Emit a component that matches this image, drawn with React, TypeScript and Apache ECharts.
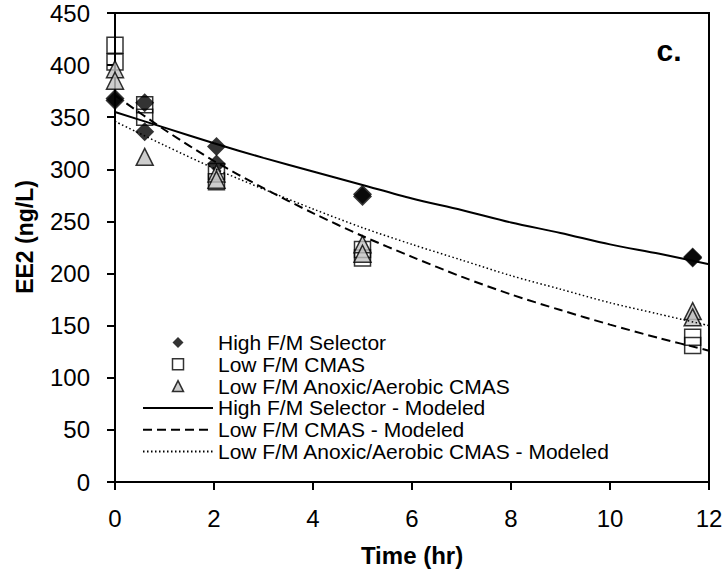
import React, { useEffect, useRef } from "react";
import * as echarts from "echarts";

// Measured data (time in hr, EE2 in ng/L)
const highFM: [number, number][] = [
  [0, 368], [0, 366], [0.6, 364], [0.6, 336], [2.05, 322], [2.05, 305],
  [5, 276], [5, 274], [11.67, 216], [11.67, 215],
];
const lowCMAS: [number, number][] = [
  [0, 419], [0, 403], [0.6, 362], [0.6, 350], [2.05, 298], [2.05, 288],
  [5, 223], [5, 215], [11.67, 139], [11.67, 131],
];
const anoxic: [number, number][] = [
  [0, 396], [0, 385], [0.6, 312], [2.05, 296], [2.05, 290],
  [5, 228], [5, 219], [11.67, 164], [11.67, 158],
];

// Modeled curves
const modelTimes = [0, 1, 2, 3, 4, 5, 6, 7, 8, 9, 10, 11, 12];
const highModel = [355, 340, 325, 311, 298, 285, 272, 261, 249, 239, 228, 219, 209];
const cmasModel = [371, 338, 308, 282, 258, 236, 216, 197, 180, 165, 151, 138, 126];
const anoxModel = [346, 323, 301, 281, 262, 244, 228, 213, 198, 185, 172, 161, 150];

const legendNames = [
  "High F/M Selector",
  "Low F/M CMAS",
  "Low F/M Anoxic/Aerobic CMAS",
  "High F/M Selector - Modeled",
  "Low F/M CMAS - Modeled",
  "Low F/M Anoxic/Aerobic CMAS - Modeled",
];

const FONT = "'Liberation Sans', Arial, sans-serif";

const pair = (ys: number[]) => modelTimes.map((t, i) => [t, ys[i]]);

// legend icons drawn in a 70x11 box so they are not stretched
const ICON_BOX = "M0 0M70 11";
const diamondIcon = `path://${ICON_BOX}M35 0L40.5 5.5L35 11L29.5 5.5Z`;
const rectIcon = `path://${ICON_BOX}M29.5 0L40.5 0L40.5 11L29.5 11Z`;
const triIcon = `path://${ICON_BOX}M35 0L40.5 11L29.5 11Z`;

export default function App() {
  const ref = useRef<HTMLDivElement>(null);
  useEffect(() => {
    if (!ref.current) return;
    const chart = echarts.init(ref.current, undefined, { renderer: "svg" });
    const axisCommon = {
      type: "value" as const,
      axisLine: { show: true, onZero: false, lineStyle: { color: "#000", width: 2 } },
      axisTick: { show: true, inside: false, length: 8, lineStyle: { color: "#000", width: 2 } },
      splitLine: { show: false },
    };
    const hiddenSym = { color: "transparent", borderColor: "transparent", borderWidth: 0 };
    chart.setOption({
      animation: false,
      backgroundColor: "#fff",
      grid: {
        left: 115, right: 18, top: 13, bottom: 91,
        show: true, borderColor: "#000", borderWidth: 2,
        backgroundColor: "transparent",
      },
      xAxis: {
        ...axisCommon,
        min: 0, max: 12, interval: 2,
        axisLabel: { fontSize: 24, color: "#000", fontFamily: FONT, margin: 24 },
      },
      yAxis: {
        ...axisCommon,
        min: 0, max: 450, interval: 50,
        axisLabel: { fontSize: 24, color: "#000", fontFamily: FONT, margin: 25 },
      },
      legend: {
        orient: "vertical",
        left: 137, top: 327,
        itemWidth: 70, itemHeight: 11, itemGap: 0.8,
        textStyle: { fontSize: 21, color: "#000", fontFamily: FONT },
        data: [
          { name: legendNames[0], icon: diamondIcon, itemStyle: { color: "#000", borderWidth: 0 } },
          { name: legendNames[1], icon: rectIcon, itemStyle: { color: "transparent", borderColor: "#000", borderWidth: 1.5 } },
          { name: legendNames[2], icon: triIcon, itemStyle: { color: "#c0c0c0", borderColor: "#000", borderWidth: 1.5 } },
          { name: legendNames[3], itemStyle: hiddenSym },
          { name: legendNames[4], itemStyle: hiddenSym },
          { name: legendNames[5], itemStyle: hiddenSym },
        ],
      },
      graphic: [
        {
          type: "text", x: 669, y: 50,
          style: { text: "c.", font: `bold 30px ${FONT}`, fill: "#000", align: "center", verticalAlign: "middle" },
        },
        {
          type: "text", x: 412, y: 555,
          style: { text: "Time (hr)", font: `bold 24px ${FONT}`, fill: "#000", align: "center", verticalAlign: "middle" },
        },
        {
          type: "text", x: 25, y: 237, rotation: Math.PI / 2,
          style: { text: "EE2 (ng/L)", font: `bold 23px ${FONT}`, fill: "#000", align: "center", verticalAlign: "middle" },
        },
      ],
      series: [
        {
          name: legendNames[0], type: "scatter", data: highFM,
          symbol: "diamond", symbolSize: 19,
          itemStyle: { color: "#000", borderColor: "#000", borderWidth: 0 },
        },
        {
          name: legendNames[1], type: "scatter", data: lowCMAS,
          symbol: "rect", symbolSize: 16,
          itemStyle: { color: "transparent", borderColor: "#000", borderWidth: 1.5 },
        },
        {
          name: legendNames[2], type: "scatter", data: anoxic,
          symbol: "triangle", symbolSize: 17,
          itemStyle: { color: "#c0c0c0", borderColor: "#000", borderWidth: 1.5 },
        },
        {
          name: legendNames[3], type: "line", data: pair(highModel),
          symbol: "none", showSymbol: false, smooth: 0.3,
          lineStyle: { color: "#000", width: 2, type: "solid" },
          itemStyle: { color: "#000" },
        },
        {
          name: legendNames[4], type: "line", data: pair(cmasModel),
          symbol: "none", showSymbol: false, smooth: 0.3,
          lineStyle: { color: "#000", width: 2, type: [9, 5] },
          itemStyle: { color: "#000" },
        },
        {
          name: legendNames[5], type: "line", data: pair(anoxModel),
          symbol: "none", showSymbol: false, smooth: 0.3,
          lineStyle: { color: "#000", width: 1.5, type: [1.5, 2.5] },
          itemStyle: { color: "#000" },
        },
      ],
    });
    return () => chart.dispose();
  }, []);
  return (
    <div
      ref={ref}
      style={{ position: "fixed", left: 0, top: 0, width: 727, height: 573, background: "#fff" }}
    />
  );
}
